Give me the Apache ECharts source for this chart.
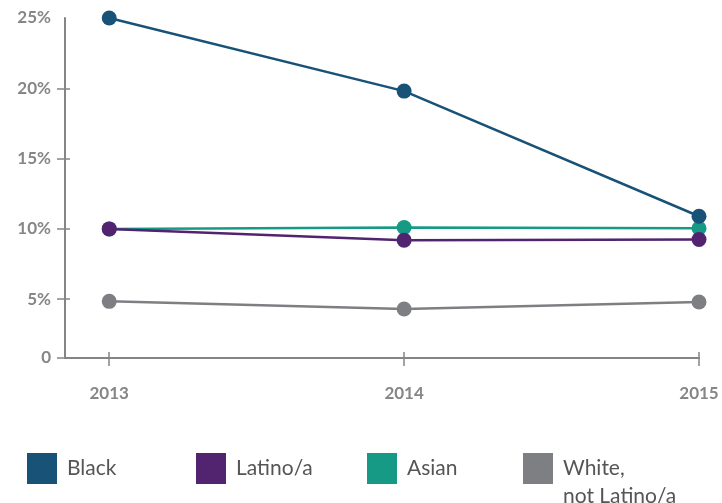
<!DOCTYPE html>
<html><head><meta charset="utf-8">
<script src="https://cdn.jsdelivr.net/npm/echarts@6/dist/echarts.min.js"></script>
<style>html,body{margin:0;padding:0;background:#fff}#c{width:722px;height:503px}</style>
</head><body><div id="c"></div>
<script>
var years = [2013, 2014, 2015];
var black = [25.0, 19.8, 10.9];
var latino = [10.0, 9.2, 9.25];
var asian = [10.0, 10.1, 10.05];
var white = [4.85, 4.3, 4.8];
var yTicks = [0, 5, 10, 15, 20, 25];
var seriesNames = ['Black', 'Latino/a', 'Asian', 'White,\nnot Latino/a'];
var colors = ['#185377', '#52246f', '#169a86', '#7e7f83'];

var yMin = 0.82, yMax = 25;
var xMin = 2012.85, xMax = 2015;
var font = 'Lato, "Open Sans", sans-serif';
var axisGray = '#858585';
function yPos(v){ return v === 0 ? yMin : v; }
var yLabelVals = yTicks.map(yPos);
var yTickVals = yTicks.filter(function(v){return v < 25;}).map(yPos);

function pairs(arr){ return years.map(function(y,i){ return [y, arr[i]]; }); }

var chart = echarts.init(document.getElementById('c'));
var baseX = {
  type: 'value', min: xMin, max: xMax, position: 'bottom',
  splitLine: {show: false}
};
var baseY = {
  type: 'value', min: yMin, max: yMax, position: 'left',
  splitLine: {show: false}
};
var legendLefts = [22, 191, 362, 518];
var legends = seriesNames.map(function(n, i){
  var twoLine = n.indexOf('\n') >= 0;
  return {
    data: [n], left: legendLefts[i], top: 448, orient: 'horizontal',
    itemWidth: 30, itemHeight: twoLine ? 58 : 31, itemGap: 10,
    icon: twoLine ? 'path://M0,0L30,0L30,31L0,31Z M0,58L0.01,58L0.01,58.01Z' : 'rect',
    selectedMode: false,
    textStyle: {fontFamily: font, fontSize: 21, color: '#555', lineHeight: 28, padding: [0, 0, 0, 5]}
  };
});
var order = [3, 2, 1, 0];
var data = [black, latino, asian, white];
chart.setOption({
  animation: false,
  color: colors,
  grid: {left: 65, right: 23, top: 18, bottom: 145, containLabel: false},
  legend: legends,
  xAxis: [
    Object.assign({}, baseX, {
      axisLine: {show: true, lineStyle: {color: axisGray, width: 2}},
      axisTick: {show: true, customValues: years, length: 8, lineStyle: {color: axisGray, width: 1.5}},
      axisLabel: {show: true, customValues: years, margin: 27, fontFamily: font, fontWeight: 'bold', fontSize: 17, color: '#868686',
        formatter: function(v){ return String(v); }}
    }),
    Object.assign({}, baseX, {
      axisLine: {show: false},
      axisTick: {show: true, inside: true, customValues: years, length: 6, lineStyle: {color: axisGray, width: 1.5}},
      axisLabel: {show: false}
    })
  ],
  yAxis: [
    Object.assign({}, baseY, {
      axisLine: {show: true, lineStyle: {color: axisGray, width: 2}},
      axisTick: {show: true, customValues: yTickVals, length: 8, lineStyle: {color: axisGray, width: 1.5}},
      axisLabel: {show: true, customValues: yLabelVals, margin: 14, fontFamily: font, fontWeight: 'bold', fontSize: 17, color: '#868686',
        formatter: function(v){ return v < 1 ? '0' : Math.round(v) + '%'; }}
    }),
    Object.assign({}, baseY, {
      axisLine: {show: false},
      axisTick: {show: true, inside: true, customValues: yTickVals, length: 5, lineStyle: {color: axisGray, width: 1.5}},
      axisLabel: {show: false}
    })
  ],
  series: order.map(function(i){
    return {
      name: seriesNames[i], type: 'line', data: pairs(data[i]),
      symbol: 'circle', symbolSize: 15,
      lineStyle: {width: 2.5, color: colors[i]},
      itemStyle: {color: colors[i]},
      z: 10 - i
    };
  })
});
</script></body></html>
